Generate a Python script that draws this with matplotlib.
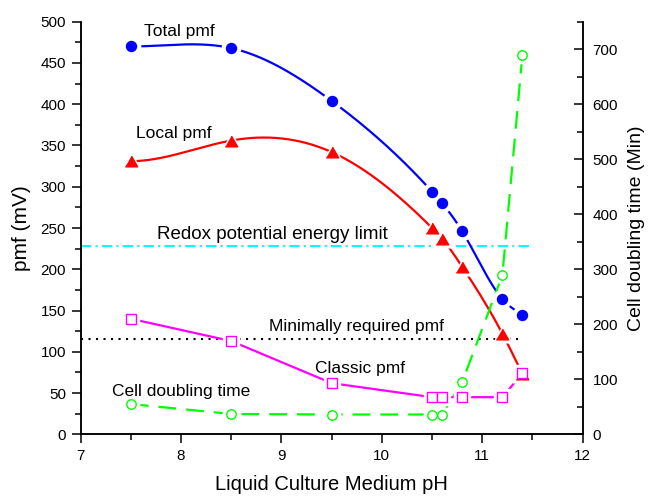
import numpy as np
import matplotlib
matplotlib.use("Agg")
import matplotlib.pyplot as plt
from matplotlib.ticker import MultipleLocator

plt.rcParams['font.family'] = ['Liberation Sans', 'DejaVu Sans']

# data
ph = [7.5, 8.5, 9.5, 10.5, 10.6, 10.8, 11.2, 11.4]
total_pmf = [470, 468, 404, 294, 280, 246, 164, 145]
local_pmf = [331, 356, 342, 250, 237, 203, 122, 73]
classic_pmf = [140, 113, 62, 45, 45, 45, 45, 74]
doubling_time = [55, 37, 36, 36, 36, 95, 289, 690]

redox_limit = 228
min_pmf = 115
redox_x = [7, 11.5]
min_pmf_x = [7, 11.4]


def spline(x, y, n=300):
    # cubic spline: flat start, zero curvature at the end
    x = np.asarray(x, float)
    y = np.asarray(y, float)
    k = len(x)
    h = np.diff(x)
    A = np.zeros((k, k))
    b = np.zeros(k)
    A[0, 0] = 2 * h[0]
    A[0, 1] = h[0]
    b[0] = 6 * (y[1] - y[0]) / h[0]
    A[-1, -1] = 1
    for i in range(1, k - 1):
        A[i, i - 1] = h[i - 1]
        A[i, i] = 2 * (h[i - 1] + h[i])
        A[i, i + 1] = h[i]
        b[i] = 6 * ((y[i + 1] - y[i]) / h[i] - (y[i] - y[i - 1]) / h[i - 1])
    M = np.linalg.solve(A, b)
    xs = np.linspace(x[0], x[-1], n)
    idx = np.clip(np.searchsorted(x, xs) - 1, 0, k - 2)
    x0, x1 = x[idx], x[idx + 1]
    hh = x1 - x0
    t0, t1 = x1 - xs, xs - x0
    ys = (M[idx] * t0**3 + M[idx + 1] * t1**3) / (6 * hh) \
        + (y[idx] / hh - M[idx] * hh / 6) * t0 \
        + (y[idx + 1] / hh - M[idx + 1] * hh / 6) * t1
    return xs, ys


tri = [(-1, -0.866), (1, -0.866), (0, 0.866)]

fig = plt.figure(figsize=(6.49, 4.98), dpi=100)
ax1 = fig.add_axes([0.1243, 0.1279, 0.7735, 0.8285])
ax2 = ax1.twinx()
ax1.set_xlim(7, 12)
ax1.set_ylim(0, 500)
ax2.set_ylim(0, 750)


def series(ax, x, y, color, marker, ms, mfc, gap, line_kw, smooth=False, transform=None):
    tr = transform if transform is not None else ax.transData
    if smooth:
        xs, ys = spline(x, y)
    else:
        xs, ys = x, y
    ax.plot(xs, ys, color=color, zorder=2, transform=tr, **line_kw)
    # white halo so the line stops short of each marker
    ax.plot(x, y, ls='none', marker=marker, ms=ms + gap, mfc='white', mec='white',
            zorder=3, transform=tr)
    ax.plot(x, y, ls='none', marker=marker, ms=ms, mfc=mfc, mec=color, mew=1,
            zorder=4, transform=tr)


# reference lines
ax1.plot(redox_x, [redox_limit] * 2, color='#00FFFF', lw=1.5, dashes=(5, 2, 1, 2), zorder=2)
ax1.plot(min_pmf_x, [min_pmf] * 2, color='black', lw=1.5, dashes=(1, 2.6), zorder=2)

series(ax1, ph, total_pmf, '#0000FF', 'o', 7.2, '#0000FF', 6, dict(lw=1.6), smooth=True)
series(ax1, ph, local_pmf, '#FF0000', tri, 8.9, '#FF0000', 5, dict(lw=1.6), smooth=True)
series(ax1, ph, classic_pmf, '#FF00FF', 's', 6.6, 'white', 5, dict(lw=1.6))
series(ax1, ph, doubling_time, '#00FF00', 'o', 6.8, 'white', 5,
       dict(lw=1.6, dashes=(8, 4.5)), transform=ax2.transData)

# labels on the curves
ax1.text(7.98, 488, 'Total pmf', ha='center', va='center', fontsize=12.5)
ax1.text(7.93, 365, 'Local pmf', ha='center', va='center', fontsize=12.5)
ax1.text(8.91, 242, 'Redox potential energy limit', ha='center', va='center', fontsize=13.5)
ax1.text(9.75, 131, 'Minimally required pmf', ha='center', va='center', fontsize=12.5)
ax1.text(9.78, 80, 'Classic pmf', ha='center', va='center', fontsize=12.5)
ax1.text(8.0, 52, 'Cell doubling time', ha='center', va='center', fontsize=12.5)

ax1.set_xlabel('Liquid Culture Medium pH', fontsize=14.5, labelpad=9)
ax1.set_ylabel('pmf (mV)', fontsize=15, labelpad=7)
ax2.set_ylabel('Cell doubling time (Min)', fontsize=14, labelpad=7)

ax1.xaxis.set_major_locator(MultipleLocator(1))
ax1.xaxis.set_minor_locator(MultipleLocator(0.5))
ax1.yaxis.set_major_locator(MultipleLocator(50))
ax1.yaxis.set_minor_locator(MultipleLocator(25))
ax2.yaxis.set_major_locator(MultipleLocator(100))
ax2.yaxis.set_minor_locator(MultipleLocator(50))

ax1.tick_params(which='both', direction='out', width=1.1, labelsize=11)
ax1.tick_params(which='major', length=6.5, pad=4)
ax1.tick_params(which='minor', length=4)
ax1.tick_params(axis='y', right=False)
ax2.tick_params(which='both', direction='in', width=1.1, labelsize=11)
ax2.tick_params(which='major', length=6.5, pad=7)
ax2.tick_params(which='minor', length=4)

for ax in (ax1, ax2):
    ax.spines['top'].set_visible(False)
    for s in ('left', 'right', 'bottom'):
        ax.spines[s].set_linewidth(1.1)

fig.savefig('out.png', dpi=100)
